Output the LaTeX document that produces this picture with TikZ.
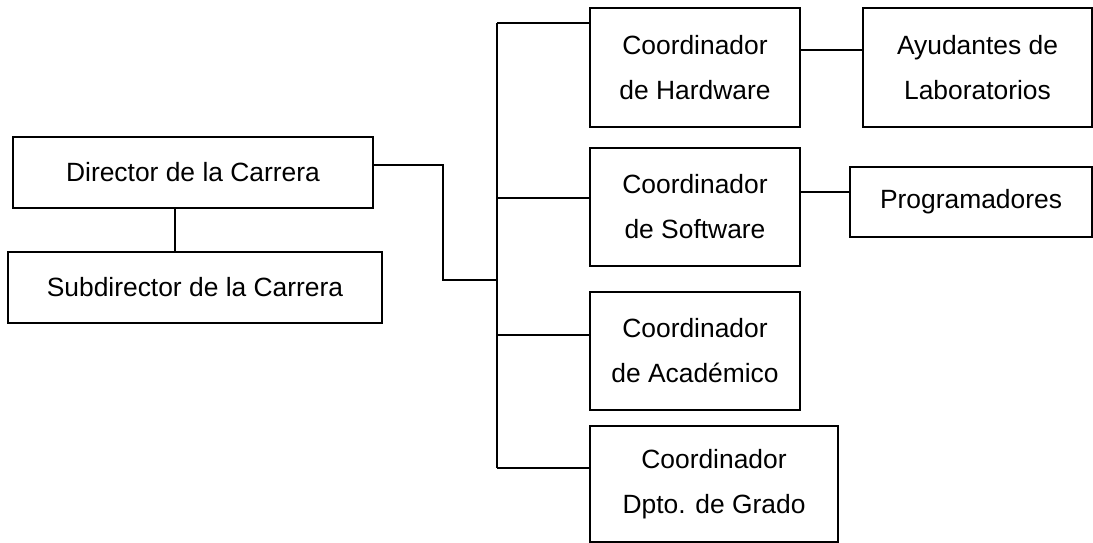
\documentclass[tikz,border=0pt]{standalone}
\usepackage{fontspec}
\setmainfont{Liberation Sans}
\begin{document}
\begin{tikzpicture}[x=1pt,y=-1pt,
  box/.style={draw, line width=1.5pt, inner sep=0pt, align=center,
    font=\fontsize{26.4}{45}\selectfont},
  link/.style={line width=1.5pt}]
\useasboundingbox (0,0) rectangle (1093,542);
\fill[white] (0,0) rectangle (1093,542);

% left column
\node[box, minimum width=360pt, minimum height=71pt] (dir) at (193,172.5) {Director de la Carrera};
\node[box, minimum width=374pt, minimum height=71pt] (sub) at (195,287.5) {Subdirector de la Carrera};

% coordinators
\node[box, minimum width=210pt, minimum height=119pt] (hw) at (695,67.5) {Coordinador\\de Hardware};
\node[box, minimum width=210pt, minimum height=118pt] (sw) at (695,207) {Coordinador\\de Software};
\node[box, minimum width=210pt, minimum height=118pt] (ac) at (695,351) {Coordinador\\de Académico};
\node[box, minimum width=248pt, minimum height=116pt] (gr) at (714,484) {Coordinador\\Dpto. de Grado};

% staff
\node[box, minimum width=229pt, minimum height=119pt] (ay) at (977.5,67.5) {Ayudantes de\\Laboratorios};
\node[box, minimum width=242pt, minimum height=70pt] (pr) at (971,202) {Programadores};

% routing points
\coordinate (ds) at (175,0);
\coordinate (turn) at (443,0);
\coordinate (bus) at (497,0);
\coordinate (dout) at (0,165);
\coordinate (bjoin) at (0,280);
\coordinate (bhw) at (0,23);
\coordinate (bsw) at (0,198);
\coordinate (bac) at (0,335);
\coordinate (bgr) at (0,468);
\coordinate (lhw) at (0,50);
\coordinate (lsw) at (0,192);

% director to subdirector
\draw[link] (dir.south -| ds) -- (sub.north -| ds);

% director to the coordinator bus
\draw[link] (dir.east |- dout) -- (turn |- dout) -- (turn |- bjoin) -- (bus |- bjoin);
\draw[link] (bus |- bhw) -- (bus |- bgr);
\draw[link] (bus |- bhw) -- (hw.west |- bhw);
\draw[link] (bus |- bsw) -- (sw.west |- bsw);
\draw[link] (bus |- bac) -- (ac.west |- bac);
\draw[link] (bus |- bgr) -- (gr.west |- bgr);

% coordinators to staff
\draw[link] (hw.east |- lhw) -- (ay.west |- lhw);
\draw[link] (sw.east |- lsw) -- (pr.west |- lsw);
\end{tikzpicture}
\end{document}
